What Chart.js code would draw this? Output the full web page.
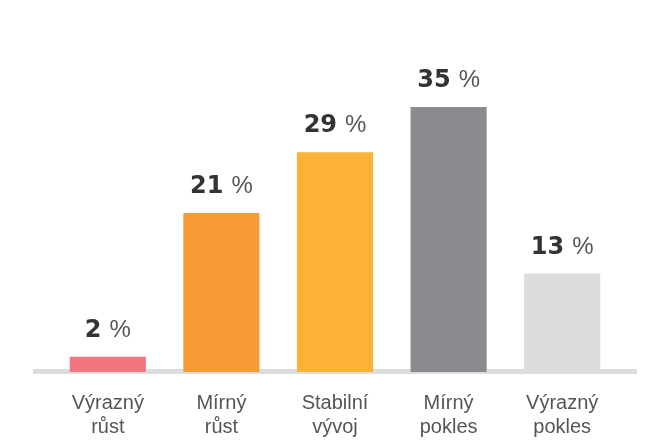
<!DOCTYPE html>
<html>
<head>
<meta charset="utf-8">
<script src="https://cdn.jsdelivr.net/npm/chart.js@4"></script>
<style>
  html, body { margin: 0; padding: 0; background: #fff; }
  #wrap { width: 652px; height: 441px; }
</style>
</head>
<body>
<div id="wrap"><canvas id="chart"></canvas></div>
<script>
const categories = [['Výrazný', 'růst'], ['Mírný', 'růst'], ['Stabilní', 'vývoj'], ['Mírný', 'pokles'], ['Výrazný', 'pokles']];
const shares = [2, 21, 29, 35, 13];
const barColors = ['#f27580', '#f79b35', '#fbb236', '#8b8b8f', '#dcdddf'];

// baseline drawn a bit wider than the plot, under the bars
const baseline = {
    id: 'baseline',
    beforeDatasetsDraw(chart) {
        const { ctx, chartArea, scales } = chart;
        const y = scales.y.getPixelForValue(0);
        ctx.save();
        ctx.fillStyle = '#dcdddf';
        ctx.fillRect(chartArea.left - 18, y - 3, chartArea.width + 36, 5);
        ctx.restore();
    }
};

// "35 %" labels above bars: bold number, light percent sign
const valueLabels = {
    id: 'valueLabels',
    afterDatasetsDraw(chart) {
        const { ctx } = chart;
        const meta = chart.getDatasetMeta(0);
        ctx.save();
        ctx.textBaseline = 'alphabetic';
        ctx.textAlign = 'left';
        meta.data.forEach((bar, i) => {
            const num = String(shares[i]);
            const numFont = 'bold 24px "DejaVu Sans"';
            const pctFont = '24px "Liberation Sans"';
            ctx.font = numFont;
            const wNum = ctx.measureText(num).width;
            ctx.font = pctFont;
            const wPct = ctx.measureText('%').width;
            const gap = 8;
            const x0 = bar.x - (wNum + gap + wPct) / 2;
            const y = bar.y - 20;
            ctx.font = numFont;
            ctx.fillStyle = '#333335';
            ctx.fillText(num, x0, y);
            ctx.font = pctFont;
            ctx.fillStyle = '#555557';
            ctx.fillText('%', x0 + wNum + gap, y);
        });
        ctx.restore();
    }
};

new Chart(document.getElementById('chart'), {
    type: 'bar',
    data: {
        labels: categories,
        datasets: [{
            data: shares,
            backgroundColor: barColors,
            borderWidth: 0,
            categoryPercentage: 1,
            barPercentage: 0.67
        }]
    },
    options: {
        responsive: true,
        maintainAspectRatio: false,
        animation: false,
        layout: { padding: { top: 69, left: 51, right: 33, bottom: -17 } },
        plugins: { legend: { display: false }, tooltip: { enabled: false } },
        scales: {
            x: {
                grid: { display: false, drawTicks: false },
                border: { display: false },
                ticks: {
                    color: '#555557',
                    padding: 19,
                    font: { family: '"Liberation Sans", Arial, sans-serif', size: 20, lineHeight: 1.2 }
                }
            },
            y: { display: false, min: 0, max: 40 }
        }
    },
    plugins: [baseline, valueLabels]
});
</script>
</body>
</html>
